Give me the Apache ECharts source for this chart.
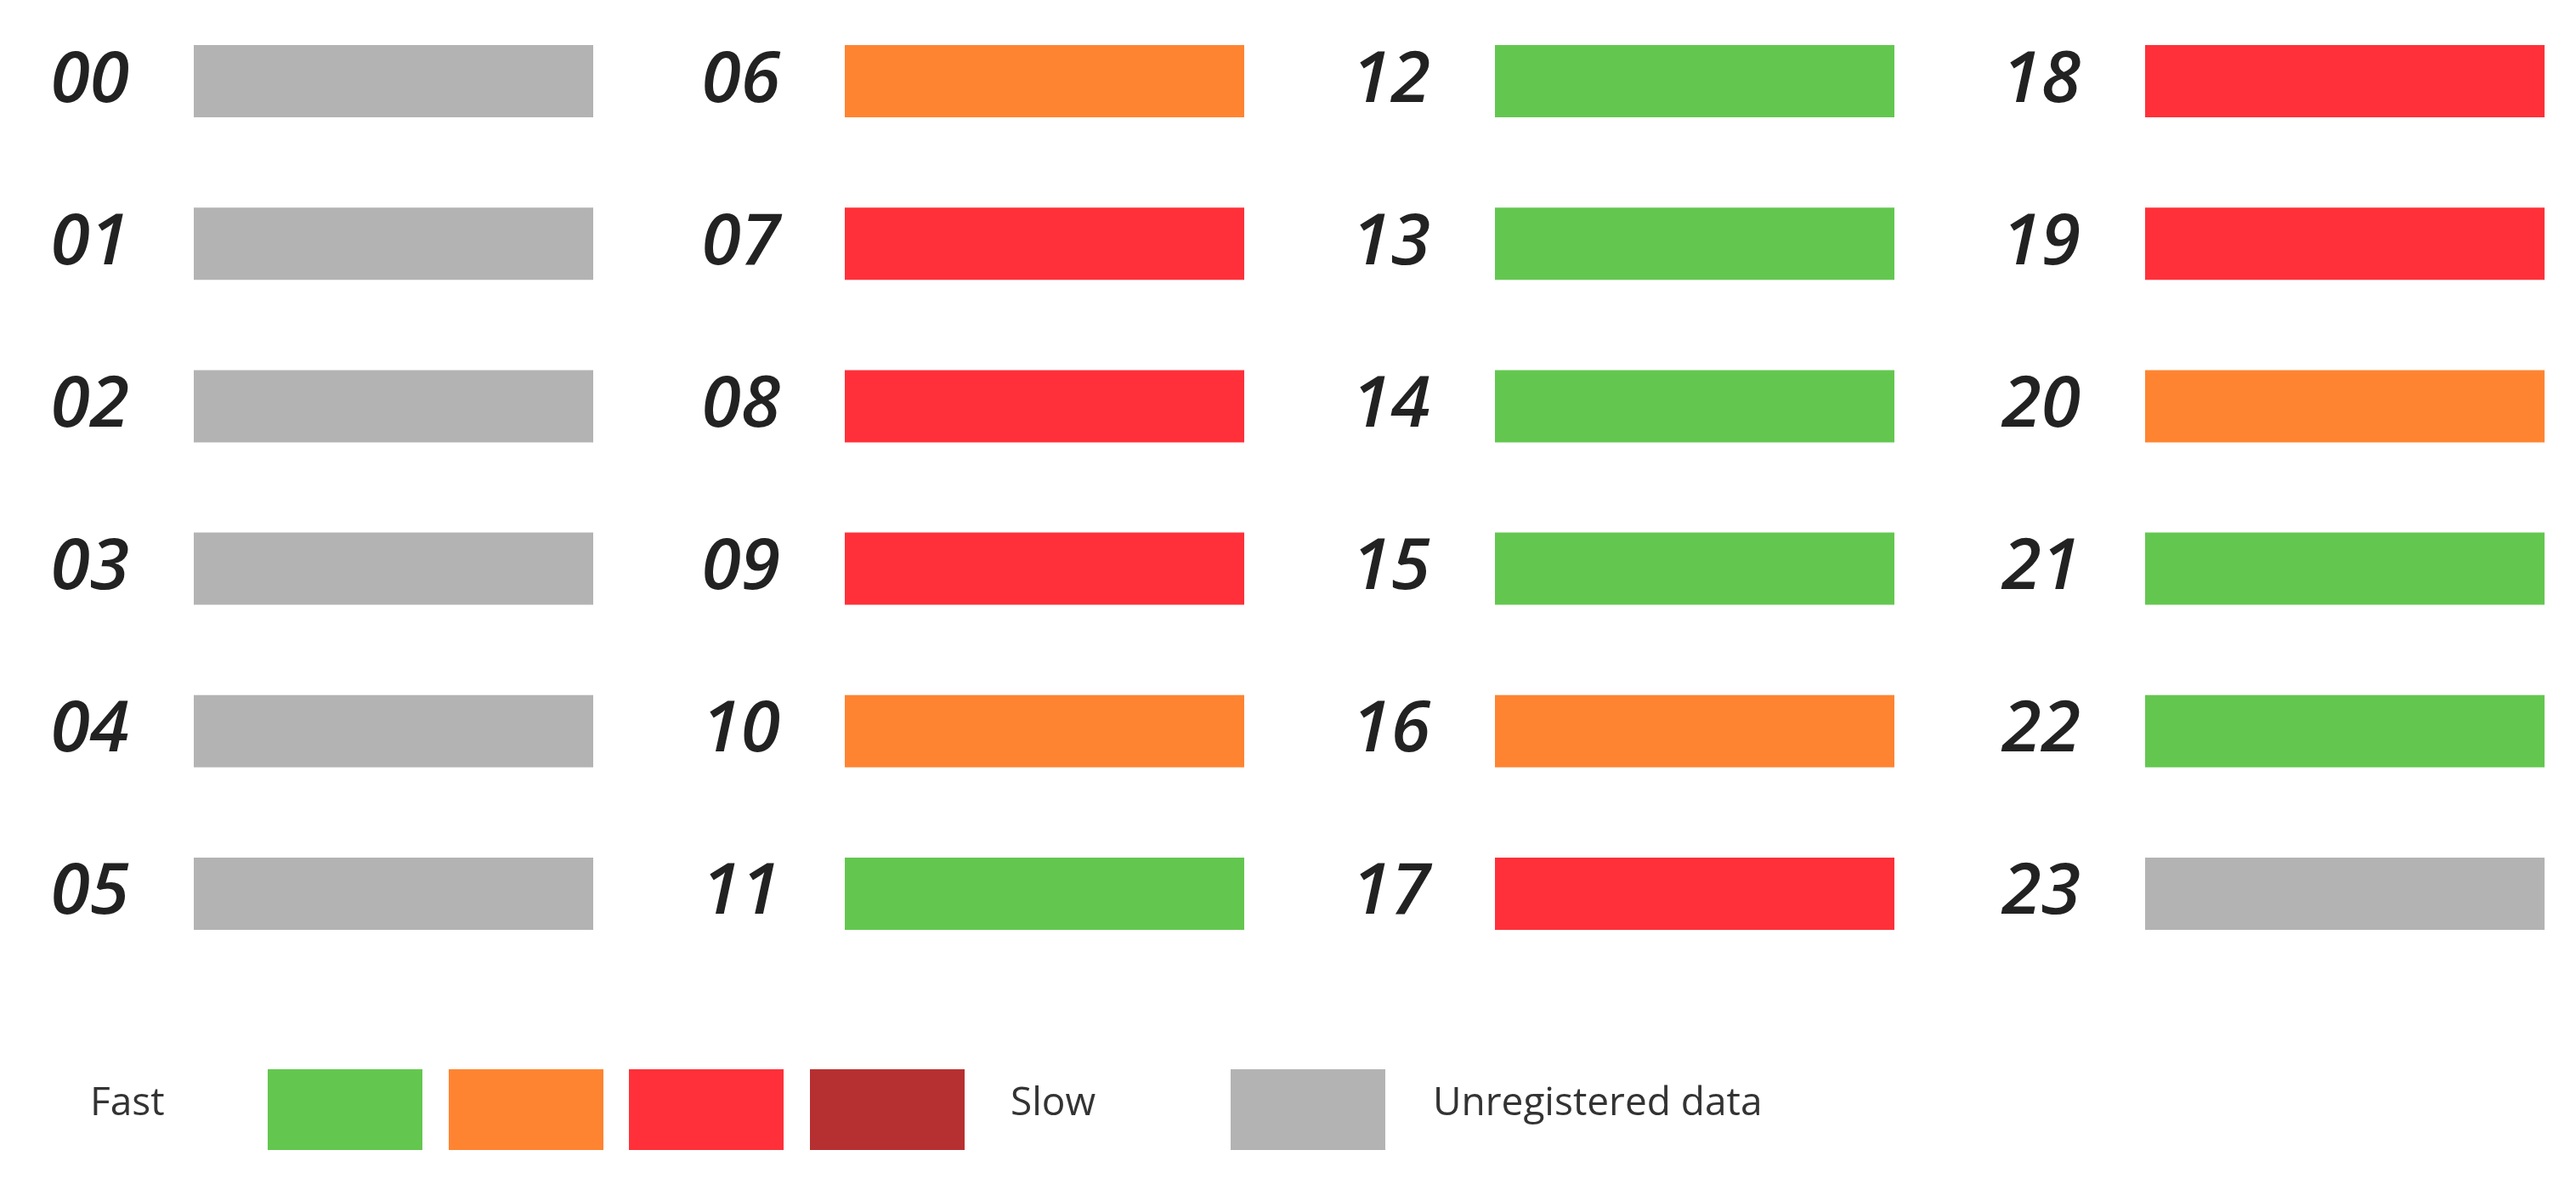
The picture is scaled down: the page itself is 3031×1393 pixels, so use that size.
<!DOCTYPE html>
<html>
<head>
<meta charset="utf-8">
<script src="https://cdn.jsdelivr.net/npm/echarts@6/dist/echarts.min.js"></script>
<style>html,body{margin:0;background:#fff}</style>
</head>
<body>
<div id="main" style="width:3031px;height:1393px;"></div>
<script>
var chart = echarts.init(document.getElementById('main'));

// hour labels, one column per 6 hours
var hours = ['00','01','02','03','04','05','06','07','08','09','10','11',
             '12','13','14','15','16','17','18','19','20','21','22','23'];
// speed class per hour: 0 fast, 1 medium, 2 slow, 3 very slow, -1 unregistered
var speedClass = [-1,-1,-1,-1,-1,-1, 1,2,2,2,1,0, 0,0,0,0,1,2, 2,2,1,0,0,-1];
var classColors = ['#63c74f', '#ff8431', '#ff3039', '#b73031'];
var noDataColor = '#b3b3b3';
var legendText = ['Fast', 'Slow', 'Unregistered data'];

var colLeft = [228, 994, 1759, 2524];
var grids = [], xAxes = [], yAxes = [], series = [];
for (var c = 0; c < 4; c++) {
  var cats = hours.slice(c * 6, c * 6 + 6);
  var vals = speedClass.slice(c * 6, c * 6 + 6);
  grids.push({ left: colLeft[c], width: 470, top: -14, height: 1161 });
  xAxes.push({ gridIndex: c, type: 'value', min: 0, max: 1, show: false });
  yAxes.push({
    gridIndex: c, type: 'category', inverse: true, data: cats,
    axisLine: { show: false }, axisTick: { show: false }, splitLine: { show: false },
    axisLabel: {
      margin: 76, color: '#222', fontSize: 84, fontStyle: 'italic',
      fontWeight: 600, fontFamily: 'Open Sans'
    }
  });
  series.push({
    type: 'bar', xAxisIndex: c, yAxisIndex: c, barWidth: 85, silent: true,
    data: vals.map(function (s) {
      return { value: 1, itemStyle: { color: s < 0 ? noDataColor : classColors[s] } };
    })
  });
}

// legend drawn as graphic
var textStyle = { fontSize: 46, fill: '#333', fontFamily: 'Open Sans' };
var g = [];
g.push({ type: 'text', left: 106, top: 1276, style: Object.assign({ text: legendText[0] }, textStyle) });
var boxX = [315, 528, 740, 953];
classColors.forEach(function (col, i) {
  g.push({ type: 'rect', left: boxX[i], top: 1258, shape: { width: 182, height: 95 }, style: { fill: col } });
});
g.push({ type: 'text', left: 1189, top: 1276, style: Object.assign({ text: legendText[1] }, textStyle) });
g.push({ type: 'rect', left: 1448, top: 1258, shape: { width: 182, height: 95 }, style: { fill: noDataColor } });
g.push({ type: 'text', left: 1686, top: 1276, style: Object.assign({ text: legendText[2] }, textStyle) });

chart.setOption({
  animation: false,
  backgroundColor: '#fff',
  grid: grids, xAxis: xAxes, yAxis: yAxes, series: series,
  graphic: g
});
</script>
</body>
</html>
